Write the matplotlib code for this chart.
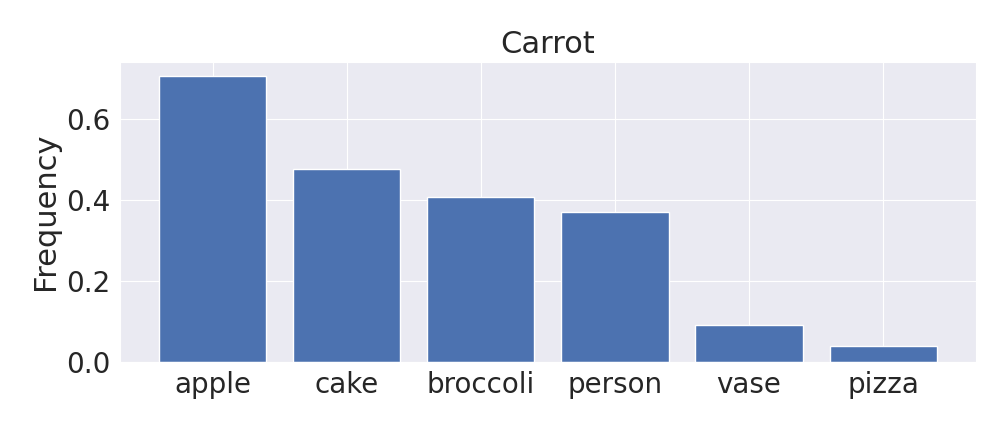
import matplotlib
matplotlib.use("Agg")
import matplotlib.pyplot as plt
import seaborn as sns

categories = ["apple", "cake", "broccoli", "person", "vase", "pizza"]
values = [0.705, 0.475, 0.406, 0.369, 0.091, 0.039]
title = "Carrot"
ylabel = "Frequency"

sns.set_style("darkgrid")
plt.rcParams['font.family'] = ['DejaVu Sans']

fig = plt.figure(figsize=(10.08, 4.32), dpi=100)
ax = fig.add_axes([0.119, 0.163, 0.849, 0.694])
ax.bar(categories, values, color="#4c72b0", width=0.8, edgecolor="white", linewidth=1)
ax.set_title(title, fontsize=22, color="#262626")
ax.set_ylabel(ylabel, fontsize=22, color="#262626")
ax.tick_params(axis="both", labelsize=20, colors="#262626")
ax.set_yticks([0.0, 0.2, 0.4, 0.6])
fig.savefig("out.png", dpi=100)
